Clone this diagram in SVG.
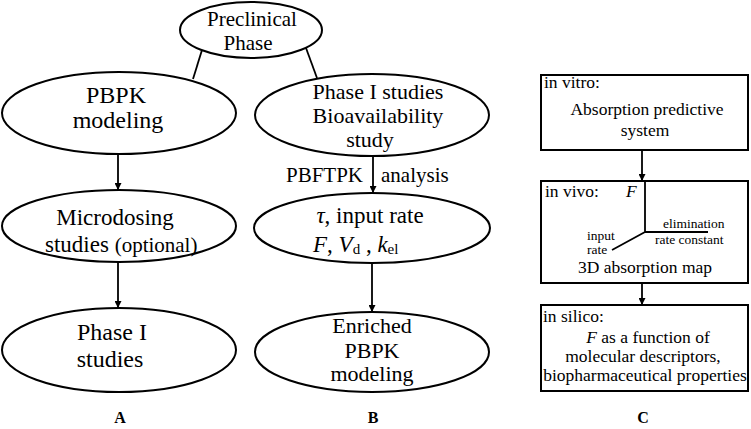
<svg xmlns="http://www.w3.org/2000/svg" width="751" height="429" viewBox="0 0 751 429" font-family="'Liberation Serif', Tinos, 'DejaVu Serif', serif">
<defs>
<marker id="ah" viewBox="0 0 10 10" refX="10" refY="5" markerWidth="7" markerHeight="7" markerUnits="userSpaceOnUse" orient="auto">
<path d="M0,0 L10,5 L0,10 z" fill="#000"/>
</marker>
<style>
text{font-family:'Liberation Serif',Tinos,'DejaVu Serif',serif;fill:#000}
.n{fill:#fff;stroke:#000;stroke-width:2}
.c{stroke:#000;stroke-width:1.8;fill:none}
.m{text-anchor:middle}
.it{font-style:italic}
.lab{font-weight:bold;font-size:16px;text-anchor:middle}
.t17{font-size:17.5px}
.t14{font-size:13.5px}
</style>
</defs>
<rect width="751" height="429" fill="#fff"/>

<g id="connectors">
<line class="c" x1="202" y1="50" x2="193" y2="79"/>
<line class="c" x1="306" y1="48" x2="317" y2="78"/>
<line class="c" x1="118" y1="153" x2="118" y2="190" marker-end="url(#ah)"/>
<line class="c" x1="373" y1="157" x2="373" y2="193" marker-end="url(#ah)"/>
<line class="c" x1="118" y1="262" x2="118" y2="308" marker-end="url(#ah)"/>
<line class="c" x1="372" y1="263" x2="372" y2="312" marker-end="url(#ah)"/>
<line class="c" x1="642" y1="150" x2="642" y2="181" marker-end="url(#ah)"/>
<line class="c" x1="642" y1="283" x2="642" y2="305" marker-end="url(#ah)"/>
<text x="363" y="182" font-size="21" text-anchor="end">PBFTPK</text>
<text x="381" y="182" font-size="21">analysis</text>
</g>

<g id="preclinical">
<ellipse class="n" cx="251" cy="30" rx="71" ry="28"/>
<text class="m" x="252" y="26" font-size="21">Preclinical</text>
<text class="m" x="248" y="50" font-size="21">Phase</text>
</g>

<g id="pbpk">
<ellipse class="n" cx="119" cy="113" rx="117" ry="41"/>
<text class="m" x="116" y="103" font-size="24">PBPK</text>
<text class="m" x="118" y="128" font-size="24">modeling</text>
</g>

<g id="phase1bio">
<ellipse class="n" cx="372" cy="115" rx="117" ry="41"/>
<text class="m" x="378" y="99" font-size="22">Phase I studies</text>
<text class="m" x="378" y="123" font-size="22">Bioavailability</text>
<text class="m" x="370" y="147" font-size="22">study</text>
</g>

<g id="microdosing">
<ellipse class="n" cx="119" cy="226" rx="117" ry="36"/>
<text class="m" x="115" y="225" font-size="23">Microdosing</text>
<text x="45" y="252" font-size="23">studies <tspan font-size="21">(optional)</tspan></text>
</g>

<g id="params">
<ellipse class="n" cx="372" cy="228" rx="118" ry="35"/>
<text class="m" x="370" y="223" font-size="23"><tspan class="it">τ</tspan>, input rate</text>
<text x="313" y="252" font-size="23"><tspan class="it">F</tspan>, <tspan class="it">V</tspan><tspan font-size="15" dy="2">d</tspan><tspan dy="-2"> , </tspan><tspan class="it">k</tspan><tspan font-size="15" dy="2">el</tspan></text>
</g>

<g id="phase1">
<ellipse class="n" cx="119" cy="350" rx="117" ry="42"/>
<text class="m" x="112" y="340" font-size="24">Phase I</text>
<text class="m" x="110" y="367" font-size="24">studies</text>
</g>

<g id="enriched">
<ellipse class="n" cx="372" cy="352" rx="117" ry="40"/>
<text class="m" x="372" y="333" font-size="22">Enriched</text>
<text class="m" x="372" y="358" font-size="22">PBPK</text>
<text class="m" x="372" y="381" font-size="22">modeling</text>
</g>

<g id="invitro">
<rect class="n" x="541" y="75" width="207" height="75"/>
<text class="t17" x="544" y="88">in vitro:</text>
<text class="t17 m" x="647" y="115">Absorption predictive</text>
<text class="t17 m" x="645" y="136">system</text>
</g>

<g id="invivo">
<rect class="n" x="541" y="181" width="207" height="102"/>
<text class="t17" x="545" y="197">in vivo:</text>
<text class="t17 it" x="626" y="197">F</text>
<path class="c" d="M645,181 V232 H708 M645,232 L612,250"/>
<text class="t14" x="663" y="228">elimination</text>
<text class="t14" x="655" y="244">rate constant</text>
<text class="t14" x="587" y="240">input</text>
<text class="t14" x="587" y="254">rate</text>
<text class="t17 m" x="645" y="273">3D absorption map</text>
</g>

<g id="insilico">
<rect class="n" x="541" y="305" width="207" height="86"/>
<text class="t17" x="543" y="322">in silico:</text>
<text class="t17 m" x="648" y="343"><tspan class="it">F</tspan> as a function of</text>
<text class="t17 m" x="643" y="362">molecular descriptors,</text>
<text class="t17 m" x="645" y="381">biopharmaceutical properties</text>
</g>

<g id="labels">
<text class="lab" x="120" y="423">A</text>
<text class="lab" x="373" y="423">B</text>
<text class="lab" x="643" y="423">C</text>
</g>
</svg>
